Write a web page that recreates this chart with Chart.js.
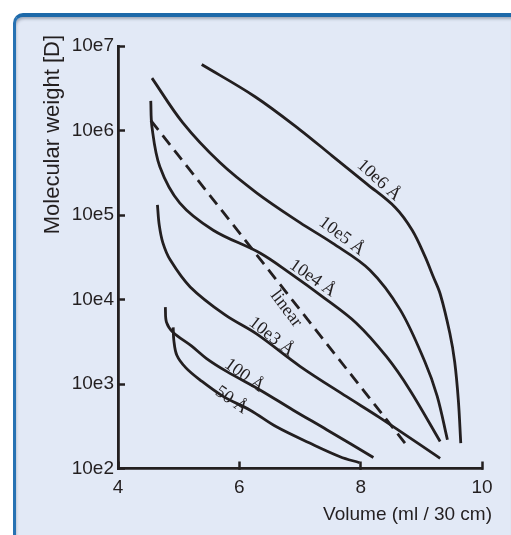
<!DOCTYPE html>
<html>
<head>
<meta charset="utf-8">
<script src="https://cdn.jsdelivr.net/npm/chart.js@4.4.1/dist/chart.umd.min.js"></script>
<style>
    html, body { margin: 0; padding: 0; background: #ffffff; }
    #wrap { position: relative; width: 511px; height: 535px; overflow: hidden; }
    #panel {
        position: absolute; left: 13px; top: 13px; right: 0; bottom: 0;
        background: #e2e9f6;
        border-top: 4px solid #1d69a9;
        border-left: 3px solid #2772b3;
        border-top-left-radius: 10px;
        box-shadow: inset 1px 3px 3px -1px rgba(40, 50, 70, 0.35);
    }
    #chart { position: absolute; left: 0; top: 0; }
</style>
</head>
<body>
<div id="wrap">
    <div id="panel"></div>
    <canvas id="chart" width="511" height="535"></canvas>
</div>
<script>
// curve names, in drawing order
const curveNames = ['10e6 Å', '10e5 Å', '10e4 Å', 'linear', '10e3 Å', '100 Å', '50 Å'];

// elution volume (ml / 30 cm) and molecular weight (D)
const vol1e6 = [5.38, 6.26, 7.00, 7.53, 8.10, 8.57, 8.85, 9.06, 9.19, 9.31, 9.47, 9.55, 9.61, 9.65];
const mw1e6 = [6.03e6, 2.51e6, 1.02e6, 5.01e5, 2.34e5, 1.23e5, 6.61e4, 3.24e4, 1.91e4, 1.17e4, 3.98e3, 1.82e3, 646, 200];

const vol1e5 = [4.56, 5.07, 5.68, 6.29, 7.00, 7.53, 8.15, 8.65, 9.06, 9.26, 9.43];
const mw1e5 = [4.17e6, 1.23e6, 4.17e5, 1.82e5, 8.13e4, 4.68e4, 2.24e4, 7.59e3, 1.82e3, 724, 219];

const vol1e4 = [4.54, 4.56, 4.69, 5.02, 5.57, 6.34, 6.84, 7.38, 7.93, 8.43, 8.81, 9.31];
const mw1e4 = [2.24e6, 1.10e6, 3.72e5, 1.38e5, 6.61e4, 3.55e4, 2.04e4, 1.07e4, 5.25e3, 2.09e3, 851, 209];

const volLinear = [4.54, 8.73];
const mwLinear = [1.32e6, 200];

const vol1e3 = [4.65, 4.68, 4.74, 4.86, 5.19, 5.76, 6.29, 7.00, 7.77, 8.32, 9.31];
const mw1e3 = [1.32e5, 7.59e4, 4.68e4, 2.95e4, 1.41e4, 6.61e3, 3.89e3, 1.62e3, 708, 398, 132];

const vol100 = [4.78, 4.80, 4.91, 5.21, 5.46, 5.79, 6.34, 6.89, 7.44, 8.21];
const mw100 = [8.13e3, 5.37e3, 4.07e3, 2.82e3, 2.00e3, 1.41e3, 851, 490, 288, 135];

const vol50 = [4.91, 4.92, 4.97, 5.12, 5.35, 5.74, 6.18, 6.62, 7.16, 7.66, 7.98];
const mw50 = [4.68e3, 3.31e3, 2.19e3, 1.55e3, 1.12e3, 708, 490, 309, 200, 138, 117];

// axis ticks
const xTickValues = [4, 6, 8, 10];
const yTickExponents = [2, 3, 4, 5, 6, 7];

// where each curve name sits (data units)
const labelVol = [8.30, 7.69, 7.21, 6.77, 6.53, 6.08, 5.87];
const labelMw = [2.57e5, 5.62e4, 1.78e4, 7.76e3, 3.63e3, 1.26e3, 646];

const ink = '#231f20';
const sans = '"Liberation Sans", Arial, Helvetica, sans-serif';
const serif = '"Liberation Serif", "Times New Roman", serif';
const labelAngles = [42, 37, 35, 53, 38, 36, 35];

const curveVols = [vol1e6, vol1e5, vol1e4, volLinear, vol1e3, vol100, vol50];
const curveMws = [mw1e6, mw1e5, mw1e4, mwLinear, mw1e3, mw100, mw50];

function toPoints(vols, mws) {
    return vols.map((v, i) => ({x: v, y: mws[i]}));
}

const datasets = curveNames.map((name, i) => ({
    label: name,
    data: toPoints(curveVols[i], curveMws[i]),
    borderColor: ink,
    borderWidth: 2.8,
    borderDash: name === 'linear' ? [12, 7] : [],
    borderCapStyle: 'butt',
    pointRadius: 0,
    fill: false,
    tension: 0.35
}));

// curve names along the lines, plus the two axis titles
const annotate = {
    id: 'annotate',
    afterDatasetsDraw(chart) {
        const {ctx, chartArea, scales: {x, y}} = chart;
        ctx.save();
        ctx.fillStyle = ink;
        ctx.textAlign = 'center';
        ctx.textBaseline = 'middle';
        ctx.font = '18px ' + serif;
        curveNames.forEach((name, i) => {
            ctx.save();
            ctx.translate(x.getPixelForValue(labelVol[i]), y.getPixelForValue(labelMw[i]));
            ctx.rotate(labelAngles[i] * Math.PI / 180);
            ctx.fillText(name, 0, 0);
            ctx.restore();
        });

        ctx.font = '19px ' + sans;
        ctx.textAlign = 'right';
        ctx.fillText('Volume (ml / 30 cm)', chartArea.right + 10, chartArea.bottom + 46.5);

        ctx.font = '22px ' + sans;
        ctx.translate(chartArea.left - 65, chartArea.top - 11);
        ctx.rotate(-Math.PI / 2);
        ctx.fillText('Molecular weight [D]', 0, 0);
        ctx.restore();
    }
};

Chart.defaults.color = ink;
Chart.defaults.font.family = sans;

const chart = new Chart(document.getElementById('chart').getContext('2d'), {
    type: 'line',
    data: {datasets: datasets},
    plugins: [annotate],
    options: {
        responsive: false,
        animation: false,
        layout: {
            padding: {left: 0, top: 46, right: 29, bottom: 0}
        },
        plugins: {
            legend: {display: false},
            tooltip: {enabled: false}
        },
        scales: {
            x: {
                type: 'linear',
                min: 4,
                max: 10,
                afterBuildTicks: function (scale) {
                    scale.ticks = xTickValues.map(v => ({value: v}));
                },
                afterFit: function (scale) {
                    scale.height = 66.5;
                },
                border: {display: true, color: ink, width: 2.8},
                grid: {
                    drawOnChartArea: false,
                    drawTicks: true,
                    tickLength: -7,
                    tickColor: ink,
                    tickWidth: 2.5
                },
                ticks: {
                    padding: 15,
                    font: {size: 19},
                    color: ink,
                    maxRotation: 0,
                    autoSkip: false
                }
            },
            y: {
                type: 'logarithmic',
                min: 100,
                max: 1e7,
                afterBuildTicks: function (scale) {
                    scale.ticks = yTickExponents.map(e => ({value: Math.pow(10, e)}));
                },
                afterFit: function (scale) {
                    scale.width = 118;
                },
                border: {display: true, color: ink, width: 2.8},
                grid: {
                    drawOnChartArea: false,
                    drawTicks: true,
                    tickLength: -7,
                    tickColor: ink,
                    tickWidth: 2.5
                },
                ticks: {
                    padding: 11,
                    font: {size: 19},
                    color: ink,
                    autoSkip: false,
                    callback: function (value) {
                        return '10e' + Math.round(Math.log10(value));
                    }
                }
            }
        }
    }
});
</script>
</body>
</html>
